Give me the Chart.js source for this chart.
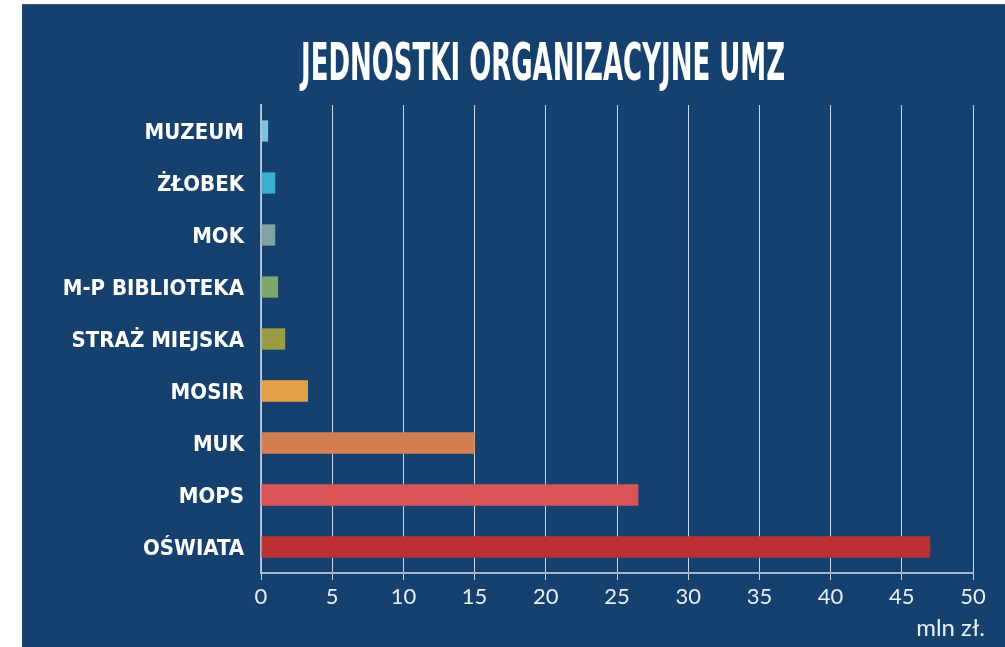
<!DOCTYPE html>
<html>
<head>
<meta charset="utf-8">
<script src="https://cdn.jsdelivr.net/npm/chart.js@4"></script>
<style>
  html, body { margin: 0; padding: 0; background: #fff; overflow: hidden; }
  #panel { position: absolute; left: 22px; top: 5px; width: 983px; height: 642px; background: #16416e; }
  #top-line { position: absolute; left: 22px; top: 4px; width: 983px; height: 1px; background: #555; }
</style>
</head>
<body>
<div id="top-line"></div>
<div id="panel"><canvas id="barChart" width="983" height="642"></canvas></div>
<script>
var units = ['MUZEUM', 'ŻŁOBEK', 'MOK', 'M-P BIBLIOTEKA', 'STRAŻ MIEJSKA', 'MOSIR', 'MUK', 'MOPS', 'OŚWIATA']
var values = [0.5, 1.0, 1.0, 1.2, 1.7, 3.3, 15.0, 26.5, 47.0] // mln zł
var barColors = ['#7cc3df', '#3aafcf', '#7fa2a3', '#7da86d', '#999d45', '#e4a045', '#d47f52', '#db5457', '#bb3032']
var chartTitle = 'JEDNOSTKI ORGANIZACYJNE UMZ'
var unitLabel = 'mln zł.'

// title and unit label drawn by hand, the title squeezed to look condensed
var textPlugin = {
  id: 'extraText',
  afterDraw: function(chart) {
    var ctx = chart.ctx
    ctx.save()
    ctx.fillStyle = '#ffffff'
    ctx.font = 'bold 51px "DejaVu Sans Condensed", sans-serif'
    ctx.textBaseline = 'alphabetic'
    ctx.textAlign = 'center'
    var w = ctx.measureText(chartTitle).width
    ctx.translate(521, 75)
    ctx.scale(484 / w, 1)
    ctx.fillText(chartTitle, 0, 0)
    ctx.restore()

    ctx.save()
    ctx.fillStyle = '#e9eef5'
    ctx.font = '24px Lato, sans-serif'
    ctx.textAlign = 'right'
    ctx.textBaseline = 'alphabetic'
    ctx.fillText(unitLabel, 963, 631)
    ctx.restore()
  }
}

function createChart() {
  var el = document.getElementById('barChart')
  new Chart(el, {
    type: 'bar',
    data: {
      labels: units,
      datasets: [{
        data: values,
        backgroundColor: barColors,
        borderWidth: 0,
        categoryPercentage: 1,
        barPercentage: 0.41
      }]
    },
    options: {
      indexAxis: 'y',
      responsive: false,
      animation: false,
      layout: { padding: { left: 0, right: 32, top: 100, bottom: 0 } },
      scales: {
        x: {
          min: 0,
          max: 50,
          ticks: {
            stepSize: 5,
            color: '#e9eef5',
            padding: 4,
            font: { family: 'Lato', size: 22 }
          },
          grid: {
            color: 'rgba(235,240,248,0.85)',
            lineWidth: 1,
            tickLength: 7
          },
          border: { color: 'rgba(190,202,220,0.85)', width: 2 },
          afterFit: function(scale) { scale.height = 74 }
        },
        y: {
          ticks: {
            color: '#ffffff',
            padding: 9,
            labelOffset: 2,
            font: { family: '"DejaVu Sans Condensed", sans-serif', size: 22, weight: 'bold' }
          },
          grid: { display: false },
          border: { display: true, color: 'rgba(190,202,220,0.85)', width: 2 },
          afterFit: function(scale) { scale.width = 239 }
        }
      },
      plugins: {
        legend: { display: false },
        tooltip: { enabled: false }
      }
    },
    plugins: [textPlugin]
  })
}

window.onload = function() {
  createChart()
}
</script>
</body>
</html>
